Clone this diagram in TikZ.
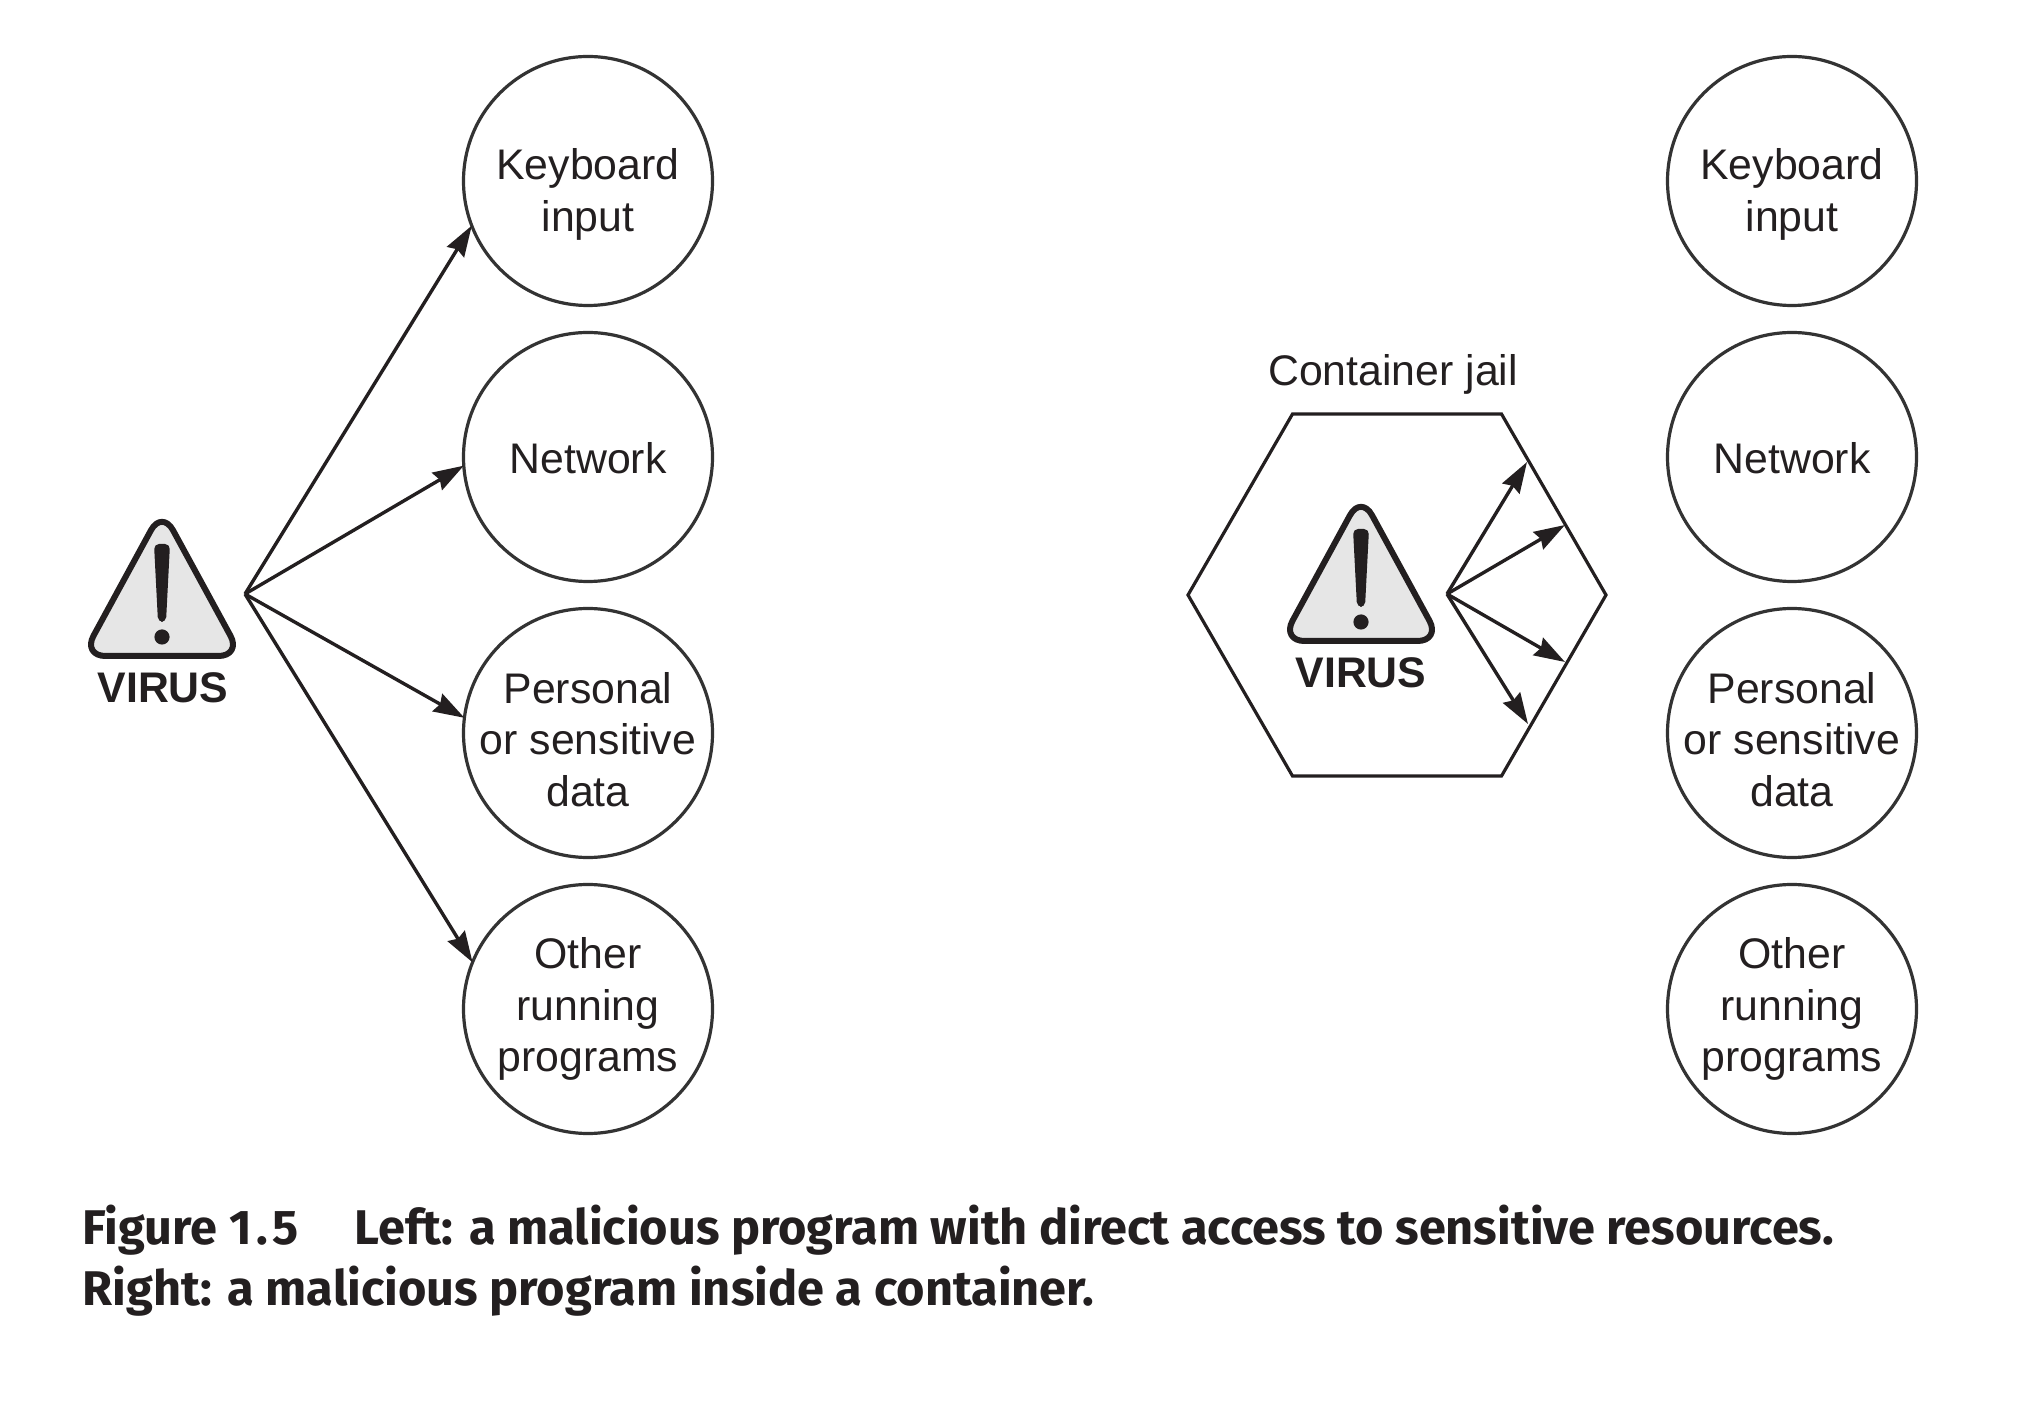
\documentclass[tikz,border=0pt]{standalone}
\usepackage{fontspec}
\usetikzlibrary{arrows.meta,shapes.geometric}
\setmainfont{Liberation Sans}
\newfontfamily\capfont{Fira Sans}[UprightFont=* Bold]
\definecolor{ink}{HTML}{231F20}
\definecolor{ring}{HTML}{333333}
\definecolor{warnfill}{HTML}{E6E6E6}
\newcommand{\firstline}[1]{\rule{0pt}{#1pt}}
\tikzset{
  x=0.5pt,y=-0.5pt,
  res/.style={circle,draw=ring,line width=1.6pt,minimum size=124.5pt,inner sep=0pt,outer sep=0pt,
    align=center,text=ink,font=\fontsize{21.4}{25.7}\selectfont},
  link/.style={draw=ink,line width=1.7pt,-{Stealth[length=15.5pt,width=10pt,inset=1.6pt]}},
  jailbox/.style={regular polygon,regular polygon sides=6,draw=ink,line width=1.6pt,minimum size=209pt,inner sep=0pt,outer sep=0pt},
  viruslabel/.style={anchor=base,text=ink,inner sep=0pt,font=\fontsize{21.4}{25}\selectfont\bfseries},
  plainlabel/.style={anchor=base,text=ink,inner sep=0pt,font=\fontsize{21.4}{25}\selectfont},
  caption/.style={anchor=north west,align=left,inner sep=0pt,text=ink,font=\fontsize{24.35}{30.7}\selectfont\capfont},
  warnicon/.pic={
    \draw[draw=ink,line width=3pt,fill=warnfill,rounded corners=11.5pt,line join=round]
      (0,-84) -- (79.5,62) -- (-79.5,62) -- cycle;
    \fill[ink,rounded corners=2.5pt] (-8,-50) -- (8,-50) -- (4,28) -- (-4,28) -- cycle;
    \fill[ink] (0,43) circle (3.8pt);
  }
}
\begin{document}
\begin{tikzpicture}
\useasboundingbox (0,0) rectangle (2030,1416);
% left side
\node[res] (k1) at (588,181) {\firstline{29}Keyboard\\input};
\node[res] (n1) at (588,457) {\firstline{17}Network};
\node[res] (p1) at (588,733) {\firstline{22}Personal\\\makebox[0pt]{or sensitive}\\data};
\node[res] (o1) at (588,1009) {Other\\running\\programs};
\pic at (162,594) {warnicon};
\node[viruslabel] (v1) at (163,703) {VIRUS};
\coordinate (s1) at (245,594);
\draw[link] (s1) -- (k1.201);
\draw[link] (s1) -- (n1.184.6);
\draw[link] (s1) -- (p1.173);
\draw[link] (s1) -- (o1.158);
% right side
\node[res] (k2) at (1792,181) {\firstline{29}Keyboard\\input};
\node[res] (n2) at (1792,457) {\firstline{17}Network};
\node[res] (p2) at (1792,733) {\firstline{22}Personal\\\makebox[0pt]{or sensitive}\\data};
\node[res] (o2) at (1792,1009) {Other\\running\\programs};
\node[jailbox] (jail) at (1397,595) {};
\node[plainlabel] (jt) at (1393,386) {Container jail};
\pic at (1361,579) {warnicon};
\node[viruslabel] (v2) at (1361,688) {VIRUS};
\coordinate (s2) at (1447,594);
\coordinate (e1) at (1527,462);
\coordinate (e2) at (1565,525);
\coordinate (e3) at (1565,662);
\coordinate (e4) at (1528,724);
\draw[link] (s2) -- (e1);
\draw[link] (s2) -- (e2);
\draw[link] (s2) -- (e3);
\draw[link] (s2) -- (e4);
% caption
\node[caption] (cap) at (82,1204.5) {Figure 1\kern.09em.\kern.09em5\hspace{1.16em}Left: a malicious program with direct access to sensitive resources.\\Right: a malicious program inside a container.};
\end{tikzpicture}
\end{document}
